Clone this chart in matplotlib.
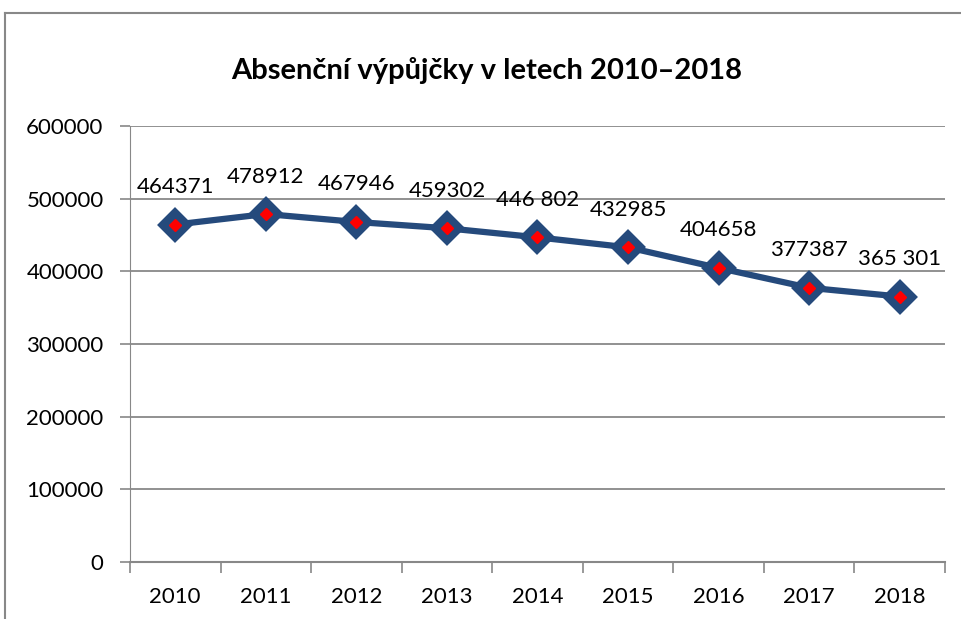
import matplotlib.pyplot as plt
from matplotlib.lines import Line2D
from matplotlib.ticker import FixedLocator

plt.rcParams['font.family'] = ['Lato', 'DejaVu Sans']

years = ['2010', '2011', '2012', '2013', '2014', '2015', '2016', '2017', '2018']
loans = [464371, 478912, 467946, 459302, 446802, 432985, 404658, 377387, 365301]
labels = ['464371', '478912', '467946', '459302', '446 802', '432985', '404658', '377387', '365 301']
yticks = [0, 100000, 200000, 300000, 400000, 500000, 600000]

fig = plt.figure(figsize=(9.62, 6.19), dpi=100)
ax = fig.add_axes([0.1351, 0.0921, 0.8472, 0.7043])

x = list(range(len(years)))
blue = '#254A7C'
ax.plot(x, loans, color=blue, lw=4.5, marker='D', ms=15,
        markerfacecolor=blue, markeredgecolor=blue, markeredgewidth=3, zorder=3)
ax.plot(x, loans, ls='none', marker='D', ms=6, color='red', zorder=4)

for xi, v, lab in zip(x, loans, labels):
    ax.annotate(lab, (xi, v), xytext=(0, 27), textcoords='offset points',
                ha='center', va='center', fontsize=16, color='black')

ax.set_xlim(-0.5, len(years) - 0.5)
ax.set_ylim(0, 600000)
ax.set_yticks(yticks)
ax.set_yticklabels([str(t) for t in yticks], fontsize=16)
ax.set_xticks(x)
ax.set_xticklabels(years, fontsize=16)
ax.tick_params(axis='x', which='major', length=0, pad=18)
ax.xaxis.set_minor_locator(FixedLocator([i - 0.5 for i in range(len(years) + 1)]))
ax.tick_params(axis='x', which='minor', length=8, color='#888888', width=1.2, direction='out')
ax.tick_params(axis='y', length=7, color='#888888', width=1.2, pad=12)

ax.grid(axis='y', color='#888888', lw=1.3)
ax.set_axisbelow(True)
for s in ['top', 'right']:
    ax.spines[s].set_visible(False)
ax.spines['left'].set_color('#888888')
ax.spines['bottom'].set_color('#888888')
ax.spines['bottom'].set_linewidth(1.5)

fig.text(0.506, 1 - 70 / 619, 'Absenční výpůjčky v letech 2010–2018', ha='center', va='center',
         fontsize=21, fontweight='bold')

# outer chart frame (cut off at right and bottom)
fig.add_artist(Line2D([5 / 962, 5 / 962], [0, 1 - 13 / 619], color='#888888', lw=1.5))
fig.add_artist(Line2D([5 / 962, 1], [1 - 13 / 619, 1 - 13 / 619], color='#888888', lw=1.5))

fig.savefig('out.png', dpi=100)
